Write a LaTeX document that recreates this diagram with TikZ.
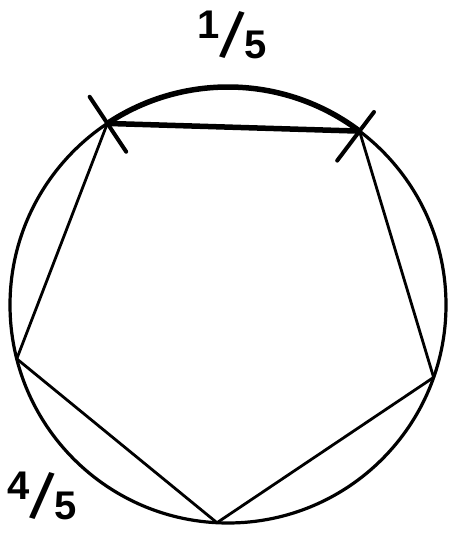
\documentclass[tikz,border=0pt]{standalone}
\usepackage{fontspec}
\setmainfont{Liberation Sans}
\usepackage{graphicx}
\usetikzlibrary{calc}
\newcommand{\hfrac}[2]{\raisebox{11pt}{#1}\kern-1pt\raisebox{-6pt}{\rotatebox{-16}{\scalebox{1.2}[1.65]{/}}}\kern-1pt\raisebox{-9pt}{#2}}
\tikzset{
  thinline/.style={line width=2.8pt},
  heavy/.style={line width=5.5pt},
  tickline/.style={line width=4pt, line cap=round},
  lbl/.style={font=\fontsize{40}{40}\selectfont\bfseries, inner sep=0pt}
}
\begin{document}
\begin{tikzpicture}[x=1pt,y=1pt]
\useasboundingbox (0,0) rectangle (455,534);
\coordinate (O) at (228,229);
\def\R{218}
\coordinate (A) at ($(O)+(123.6:\R)$);
\coordinate (B) at ($(O)+(52.9:\R)$);
\coordinate (C) at ($(O)+(-19.4:\R)$);
\coordinate (D) at ($(O)+(-92.9:\R)$);
\coordinate (E) at ($(O)+(194.3:\R)$);
\draw[line width=3.2pt] (O) circle[radius=\R];
\draw[thinline, line join=round] (B) -- (C) -- (D) -- (E) -- (A);
\draw[heavy] (A) arc[start angle=123.6, end angle=52.9, radius=\R];
\draw[heavy] (A) -- (B);
\coordinate (A1) at ($(O)+(123.6:184)$);
\coordinate (A2) at ($(O)+(123.6:250)$);
\coordinate (B1) at ($(O)+(52.9:181)$);
\coordinate (B2) at ($(O)+(52.9:242)$);
\draw[tickline] (A1) -- (A2);
\draw[tickline] (B1) -- (B2);
\node[lbl] (top) at (232,499) {\hfrac{1}{5}};
\node[lbl] (low) at (42,38) {\hfrac{4}{5}};
\end{tikzpicture}
\end{document}
